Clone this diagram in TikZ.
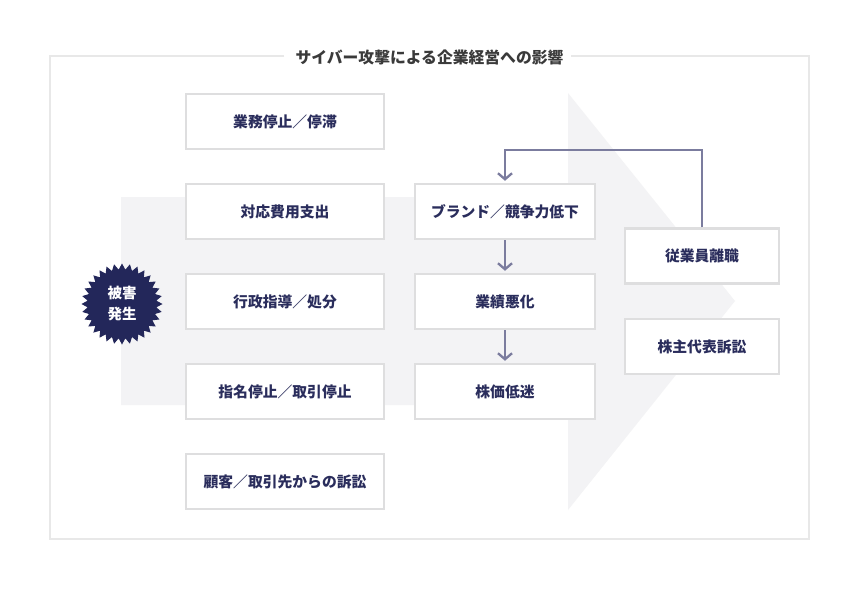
\documentclass[tikz,border=0pt]{standalone}
\usepackage{fontspec}
\setmainfont{Noto Sans CJK JP}
\usetikzlibrary{arrows.meta,shapes.geometric}
\definecolor{navy}{HTML}{2A2D5C}
\definecolor{burstc}{HTML}{23275A}
\definecolor{boxline}{HTML}{DEDEDF}
\definecolor{frameline}{HTML}{E8E8E8}
\definecolor{bigarrow}{HTML}{F3F3F5}
\definecolor{arrowc}{HTML}{7B7C9E}
\definecolor{titlec}{HTML}{3A3A3A}
\begin{document}
\begin{tikzpicture}[x=1pt,y=-1pt,
  box/.style={draw=boxline,line width=2.5pt,fill=white,inner sep=0pt,font=\bfseries\fontsize{14.8}{17}\selectfont,text=navy},
  lbox/.style={box,minimum width=198pt,minimum height=55pt},
  mbox/.style={box,minimum width=180pt,minimum height=55pt},
  rbox/.style={box,minimum width=154pt,minimum height=55pt},
  flow/.style={draw=arrowc,line width=2.5pt,-{Straight Barb[length=6pt,width=14pt,line width=2.3pt]}}
]
\useasboundingbox (0,0) rectangle (860,590);
\fill[white] (0,0) rectangle (860,590);
% frame
\draw[frameline,line width=1.5pt] (284,56) -- (50,56) -- (50,539) -- (809,539) -- (809,56) -- (571,56);
\node[font=\bfseries\fontsize{15.8}{18}\selectfont,text=titlec,inner sep=0pt] (title) at (429.5,57) {サイバー攻撃による企業経営への影響};
% big arrow
\fill[bigarrow] (121,197) -- (568,197) -- (568,93) -- (735,301) -- (568,510) -- (568,405) -- (121,405) -- cycle;
% burst
\node[star,star points=32,star point height=6pt,minimum size=81pt,inner sep=0pt,fill=burstc,draw=none] (burst) at (122,304) {};
\node[text=white,font=\bfseries\fontsize{14.5}{21}\selectfont,align=center,inner sep=0pt] (bursttext) at (burst.center) {被害\\発生};
% left column
\node[lbox] (l1) at (285,121.5) {業務停止／停滞};
\node[lbox] (l2) at (285,211.5) {対応費用支出};
\node[lbox] (l3) at (285,301.5) {行政指導／処分};
\node[lbox] (l4) at (285,391.5) {指名停止／取引停止};
\node[lbox] (l5) at (285,481.5) {顧客／取引先からの訴訟};
% middle column
\node[mbox] (m1) at (505,211.5) {ブランド／競争力低下};
\node[mbox] (m2) at (505,301.5) {業績悪化};
\node[mbox] (m3) at (505,391.5) {株価低迷};
% right column
\node[rbox] (r1) at (702,256) {従業員離職};
\node[rbox] (r2) at (702,346.5) {株主代表訴訟};
% connectors
\draw[flow,shorten >=2pt] (m1.south) -- (m2.north);
\draw[flow,shorten >=2pt] (m2.south) -- (m3.north);
\coordinate (fb) at (702,150);
\draw[flow,shorten >=2pt] (r1.north) -- (fb) -| (m1.north);
\end{tikzpicture}
\end{document}
